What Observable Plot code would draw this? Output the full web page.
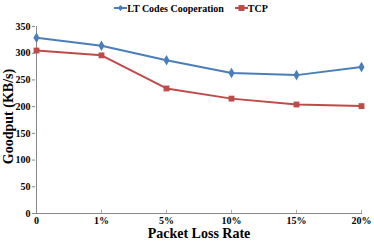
<!DOCTYPE html>
<html><head><meta charset="utf-8">
<script src="https://cdn.jsdelivr.net/npm/d3@7"></script>
<script src="https://cdn.jsdelivr.net/npm/@observablehq/plot@0.6"></script>
<style>
body{margin:0;background:#fff;font-family:"Liberation Serif",serif;}
#legend{height:16px;display:flex;justify-content:center;align-items:center;gap:11px;font-weight:bold;font-size:10px;box-sizing:border-box;width:374px;padding-left:8px;}
.item{display:flex;align-items:center;gap:0px;}
</style></head><body>
<div id="legend"></div>
<div id="chart"></div>
<script>
const categories = ["0","1%","5%","10%","15%","20%"];
const ltValues = [329, 314, 287, 263, 259, 274];
const tcpValues = [305, 296, 234, 215, 204, 201];
const seriesNames = ["LT Codes Cooperation","TCP"];
const colors = ["#4a7ebb","#be4b48"];
const yTicks = [0,50,100,150,200,250,300,350];

const data = [];
categories.forEach((c,i)=>{
  data.push({cat:c, v:ltValues[i], s:seriesNames[0]});
  data.push({cat:c, v:tcpValues[i], s:seriesNames[1]});
});

const leg = document.getElementById("legend");
seriesNames.forEach((n,i)=>{
  const sym = i===0
    ? `<svg width="13" height="8"><line x1="0" y1="4" x2="13" y2="4" stroke="${colors[i]}" stroke-width="2"/><path d="M6.5,1L9.5,4L6.5,7L3.5,4Z" fill="${colors[i]}"/></svg>`
    : `<svg width="13" height="8"><line x1="0" y1="4" x2="13" y2="4" stroke="${colors[i]}" stroke-width="2"/><rect x="3.5" y="1" width="6" height="6" fill="${colors[i]}"/></svg>`;
  leg.insertAdjacentHTML("beforeend", `<span class="item">${sym}<span>${n}</span></span>`);
});

const chart = Plot.plot({
  width: 374, height: 228,
  marginLeft: 35, marginRight: 12, marginTop: 10, marginBottom: 31,
  style: {fontFamily: "Liberation Serif, serif", fontWeight: "bold", fontSize: "10px", color: "#000", background: "#fff"},
  x: {type: "point", domain: categories, padding: 0},
  y: {domain: [0, 350]},
  color: {domain: seriesNames, range: colors},
  marks: [
    Plot.ruleY([0], {stroke: "#888"}),
    Plot.ruleX([categories[0]], {y1: 0, y2: 350, stroke: "#888"}),
    Plot.ruleX(categories.slice(1), {y1: 0, y2: 6, stroke: "#aaa"}),
    Plot.axisY({ticks: yTicks, tickSize: 3, tickPadding: 2, stroke: "#888", label: null, fill: "#000", fontWeight: "bold"}),
    Plot.axisX({tickSize: 0, tickPadding: 3, label: null, fill: "#000", fontWeight: "bold"}),
    Plot.line(data, {x: "cat", y: "v", stroke: "s", z: "s", strokeWidth: 2}),
    Plot.dot(data.filter(d=>d.s===seriesNames[0]), {x: "cat", y: "v", fill: colors[0], symbol: "diamond", r: 3.2}),
    Plot.dot(data.filter(d=>d.s===seriesNames[1]), {x: "cat", y: "v", fill: colors[1], symbol: "square", r: 3.3}),
    Plot.text(["Packet Loss Rate"], {frameAnchor: "bottom", dy: 24, fontSize: 14, fontWeight: "bold", fill: "#000"}),
    Plot.text(["Goodput (KB/s)"], {frameAnchor: "left", textAnchor: "middle", dx: -27, dy: -3.5, rotate: -90, fontSize: 14, fontWeight: "bold", fill: "#000"})
  ]
});
document.getElementById("chart").appendChild(chart);
</script>
</body></html>
